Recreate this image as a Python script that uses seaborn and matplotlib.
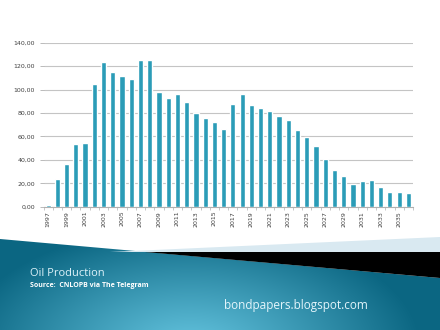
import numpy as np
import pandas as pd
import matplotlib
matplotlib.use("Agg")
import matplotlib.pyplot as plt
from matplotlib.patches import Polygon
import seaborn as sns

# ---- data ----
years = [str(y) for y in range(1997, 2037)]
production = [1.5, 24, 36.7, 53.2, 54.4, 104.7, 123.2, 115, 111.3, 109,
              125.5, 125.5, 98.2, 92.5, 96.2, 89, 80.2, 75.4, 72, 66,
              87.6, 96.5, 86.5, 84.5, 82, 77.4, 73.7, 65.2, 59.5, 51.5,
              40.7, 31.6, 25.9, 19.6, 21.6, 22.5, 16.5, 12.5, 12.2, 11.7]
y_ticks = [0, 20, 40, 60, 80, 100, 120, 140]
title_text = "Oil Production"
source_text = "Source:  CNLOPB via The Telegram"
site_text = "bondpapers.blogspot.com"

df = pd.DataFrame({"year": years, "production": production})

sns.set_theme(style="white")
plt.rcParams["font.family"] = ["DejaVu Sans"]

W, H = 440, 330
fig = plt.figure(figsize=(W / 100, H / 100), dpi=100)
fig.patch.set_facecolor("white")

# ---- slide background ----
bg = fig.add_axes([0, 0, 1, 1], zorder=0)
bg.set_xlim(0, W)
bg.set_ylim(H, 0)
bg.axis("off")

gx, gy = np.meshgrid(np.arange(W), np.arange(H))
d = np.sqrt(((gx - 190) / 230.0) ** 2 + ((gy - 345) / 120.0) ** 2)
t = np.clip(d, 0, 1) ** 1.1
light = np.array([0x62, 0xc2, 0xdd]) / 255.0
dark = np.array([0x0b, 0x66, 0x82]) / 255.0
img = light[None, None, :] * (1 - t[..., None]) + dark[None, None, :] * t[..., None]
im = bg.imshow(img, extent=(0, W, H, 0), zorder=1, aspect="auto")
teal_poly = Polygon([(0, 239), (W, 278), (W, H), (0, H)], closed=True,
                    facecolor="none", edgecolor="none")
bg.add_patch(teal_poly)
im.set_clip_path(teal_poly)

bg.add_patch(Polygon([(110, 252), (W, 237), (W, 252)], closed=True,
                     facecolor="#d9e9f1", edgecolor="none", zorder=2))
bg.add_patch(Polygon([(145, 252), (W, 252), (W, 278)], closed=True,
                     facecolor="black", edgecolor="none", zorder=3))

bg.text(30, 273, title_text, fontsize=8, color="#dff3fa",
        family=["Open Sans", "DejaVu Sans"], va="center", ha="left", zorder=5)
bg.text(30, 285.5, source_text, fontsize=5, color="white", fontweight="bold",
        family=["Open Sans", "DejaVu Sans"], va="center", ha="left", zorder=5)
bg.text(224, 305, site_text, fontsize=8.5, color="#e3f5fb",
        family=["Open Sans", "DejaVu Sans"], va="center", ha="left", zorder=5)

# ---- chart ----
ax = fig.add_axes([43.5 / W, 1 - 206.7 / H, (413 - 43.5) / W, (206.7 - 42.7) / H], zorder=2)
ax.patch.set_alpha(0)
sns.barplot(data=df, x="year", y="production", color="#2b9cb7", width=0.56,
            saturation=1, ax=ax, zorder=3)
ax.set_ylim(0, 140)
ax.set_xlim(-0.5, len(years) - 0.5)
ax.set_yticks(y_ticks)
ax.set_yticklabels([f"{v:.2f}".replace(".", ",") for v in y_ticks],
                   fontsize=4.5, color="#404040")
ax.set_xticks(range(len(years)))
ax.set_xticklabels([y if i % 2 == 0 else "" for i, y in enumerate(years)],
                   rotation=90, fontsize=4.5, color="#404040")
ax.set_xlabel("")
ax.set_ylabel("")
ax.grid(axis="y", color="#c4c4c4", linewidth=0.8, zorder=0)
ax.grid(axis="x", visible=False)
for s in ["top", "right", "left"]:
    ax.spines[s].set_visible(False)
ax.spines["bottom"].set_color("#b0b0b0")
ax.spines["bottom"].set_linewidth(0.8)
ax.tick_params(axis="y", length=3, width=0.6, color="#b0b0b0", pad=3, left=True)
ax.tick_params(axis="x", which="major", length=0, pad=3)
ax.set_xticks(np.arange(-0.5, len(years), 1), minor=True)
ax.tick_params(axis="x", which="minor", length=2.5, width=0.5, color="#b0b0b0", bottom=True)

fig.savefig("out.png", dpi=100)
